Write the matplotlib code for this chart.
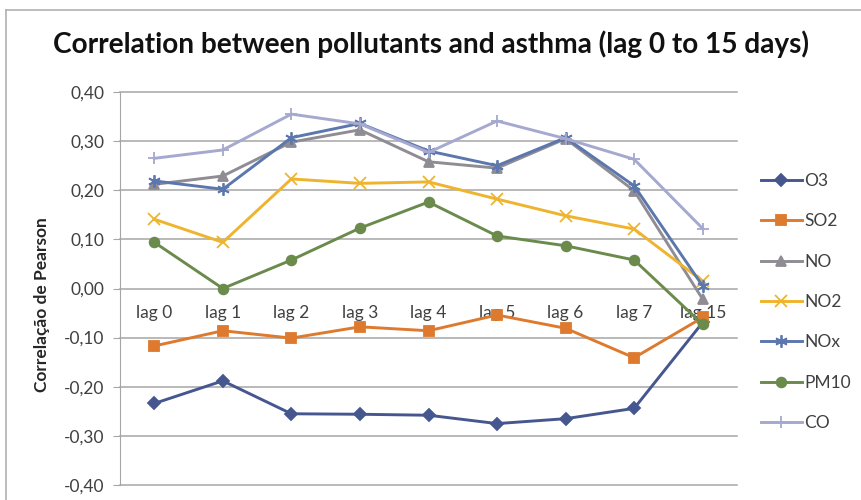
import matplotlib.pyplot as plt
from matplotlib.lines import Line2D

plt.rcParams['font.family'] = ['Lato', 'DejaVu Sans']

# categorias (eixo x)
lags = ['lag 0', 'lag 1', 'lag 2', 'lag 3', 'lag 4', 'lag 5', 'lag 6', 'lag 7', 'lag 15']

# correlacao de Pearson por poluente
o3 = [-0.234, -0.188, -0.255, -0.256, -0.258, -0.275, -0.265, -0.244, -0.069]
so2 = [-0.117, -0.086, -0.101, -0.078, -0.086, -0.054, -0.081, -0.141, -0.059]
no = [0.212, 0.229, 0.298, 0.323, 0.258, 0.245, 0.305, 0.199, -0.022]
no2 = [0.141, 0.094, 0.223, 0.214, 0.217, 0.182, 0.148, 0.121, 0.015]
nox = [0.219, 0.202, 0.307, 0.336, 0.280, 0.250, 0.307, 0.209, 0.005]
pm10 = [0.094, 0.000, 0.058, 0.123, 0.176, 0.107, 0.087, 0.058, -0.073]
co = [0.265, 0.282, 0.355, 0.335, 0.277, 0.341, 0.305, 0.263, 0.122]

yticks = [-0.4, -0.3, -0.2, -0.1, 0.0, 0.1, 0.2, 0.3, 0.4]

series = [
    ('O3', o3, '#46578f', 'D', 6),
    ('SO2', so2, '#dd7a2d', 's', 7),
    ('NO', no, '#8f8c93', '^', 7),
    ('NO2', no2, '#efb42d', 'x', 8),
    ('NOx', nox, '#5b77ae', (6, 2, 0), 9),
    ('PM10', pm10, '#6a8b4b', 'o', 7),
    ('CO', co, '#a5a8cf', '+', 9),
]

fig = plt.figure(figsize=(8.62, 5.0), dpi=100)
ax = fig.add_axes([120 / 862, 0.03, (737 - 120) / 862, (485 - 92) / 500])

grid_c = '#a6a6a6'
for v in yticks:
    ax.axhline(v, color=grid_c, lw=1.1, zorder=0, clip_on=False)

x = list(range(len(lags)))
for name, vals, c, m, ms in series:
    ax.plot(x, vals, color=c, lw=2.1, marker=m, markersize=ms,
            markeredgewidth=1.3, label=name, zorder=3)

# eixo x cruzando em zero (antes de definir os rotulos, pois reinicia os ticks)
ax.spines['bottom'].set_position(('data', 0))
ax.spines['bottom'].set_color('none')
ax.spines['top'].set_visible(False)
ax.spines['right'].set_visible(False)
ax.spines['left'].set_color(grid_c)

ax.set_xlim(-0.5, len(lags) - 0.5)
ax.set_ylim(-0.4, 0.4)
ax.set_yticks(yticks)
ax.set_yticklabels([('%.2f' % v).replace('.', ',') for v in yticks], fontsize=12.5, color='#404040')
ax.tick_params(axis='y', length=5, color=grid_c, pad=6)

ax.set_xticks(x)
ax.set_xticklabels(lags, fontsize=12.5, color='#404040')
ax.tick_params(axis='x', length=0, pad=12)

fig.text(42 / 862, 1 - 305 / 500, 'Correlação de Pearson', rotation=90,
         ha='center', va='center', fontsize=12.5, fontweight='bold', color='#262626')
fig.text(0.5, 1 - 44 / 500, 'Correlation between pollutants and asthma (lag 0 to 15 days)',
         ha='center', va='center', fontsize=20.2, fontweight='bold', color='#111111')

fig.legend(loc='center left', bbox_to_anchor=(745 / 862, 1 - 302 / 500), frameon=False,
           fontsize=12.5, handlelength=2.4, handletextpad=0.1, labelspacing=1.4,
           labelcolor='#404040')

# borda da area do grafico
fx, fy = 6 / 862, 1 - 10 / 500
fig.add_artist(Line2D([fx, 1], [fy, fy], color='#b0b0b0', lw=1.2))
fig.add_artist(Line2D([fx, fx], [0, fy], color='#b0b0b0', lw=1.2))

fig.savefig('out.png', dpi=100)
